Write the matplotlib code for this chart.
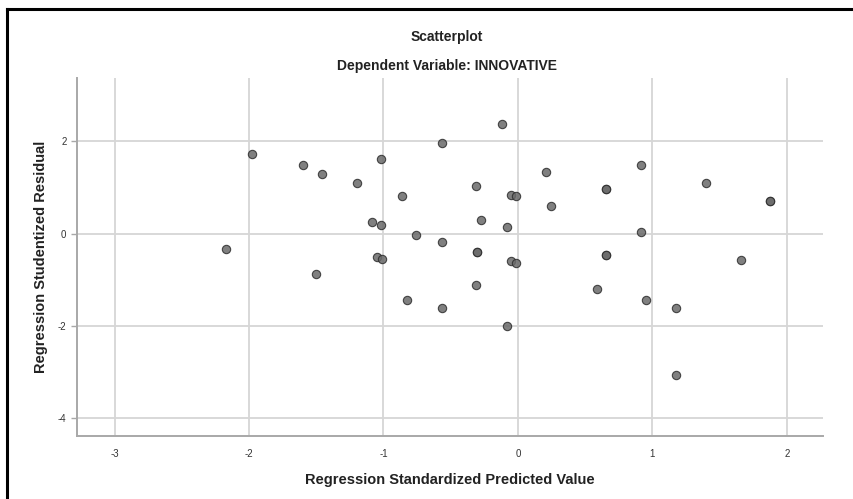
import matplotlib.pyplot as plt
from matplotlib.lines import Line2D

plt.rcParams['font.family'] = ['Liberation Sans', 'DejaVu Sans']
plt.rcParams['axes.unicode_minus'] = False

# regression standardized predicted value vs studentized residual
pred = [-1.98, -1.60, -1.46, -2.17, -1.50, -0.12, -0.565, -1.015, -1.20, 0.208,
        -0.31, -0.052, -0.012, 0.243, -0.86, -1.084, -1.015, -0.275, -0.084, -0.758,
        -0.565, -0.307, -0.307, -1.05, -1.013, -0.052, -0.015, 0.914, 0.657, 0.657,
        1.397, 1.877, 1.877, 0.914, 0.657, 0.657, 1.655, -0.827, -0.565, -0.309,
        -0.084, 0.590, 0.949, 1.172, 1.172]
resid = [1.73, 1.48, 1.30, -0.34, -0.87, 2.38, 1.97, 1.62, 1.10, 1.34,
         1.04, 0.83, 0.81, 0.61, 0.81, 0.25, 0.18, 0.30, 0.15, -0.03,
         -0.18, -0.39, -0.39, -0.51, -0.54, -0.60, -0.64, 1.48, 0.97, 0.97,
         1.09, 0.70, 0.70, 0.04, -0.46, -0.46, -0.57, -1.43, -1.62, -1.11,
         -2.01, -1.19, -1.44, -1.62, -3.07]

xticks = [-3, -2, -1, 0, 1, 2]
yticks = [-4, -2, 0, 2]

fig = plt.figure(figsize=(8.54, 4.99), dpi=100)
ax = fig.add_axes([0.090, 0.126, 0.874, 0.718])

ax.scatter(pred, resid, s=36, facecolor='#6a6a6a', edgecolor='#2e2e2e',
           linewidth=0.8, alpha=0.85, zorder=3)

ax.set_xlim(-3.28, 2.27)
ax.set_ylim(-4.39, 3.38)
ax.set_xticks(xticks)
ax.set_yticks(yticks)
ax.grid(True, color='#d6d6d6', linewidth=1.3)
ax.set_axisbelow(True)

for s in ['top', 'right']:
    ax.spines[s].set_visible(False)
for s in ['left', 'bottom']:
    ax.spines[s].set_color('#a8a8a8')
    ax.spines[s].set_linewidth(1.4)
ax.tick_params(axis='both', colors='#a8a8a8', labelcolor='#333333',
               labelsize=7, length=4, width=1)
ax.tick_params(axis='x', length=0, pad=9)

ax.set_xlabel('Regression Standardized Predicted Value', fontsize=10.5,
              fontweight='bold', color='#222222', labelpad=10)
ax.set_ylabel('Regression Studentized Residual', fontsize=10.5,
              fontweight='bold', color='#222222', labelpad=7)

fig.text(0.523, 0.925, 'Scatterplot', ha='center', va='center', fontsize=10,
         fontweight='bold', color='#222222')
fig.text(0.523, 0.867, 'Dependent Variable: INNOVATIVE', ha='center',
         va='center', fontsize=10, fontweight='bold', color='#222222')

# outer frame (top and left edges visible)
fig.add_artist(Line2D([0.008, 0.008], [0, 0.982], color='black', linewidth=2.2,
                      transform=fig.transFigure))
fig.add_artist(Line2D([0.008, 1.0], [0.982, 0.982], color='black', linewidth=2.2,
                      transform=fig.transFigure))

fig.savefig('out.png', dpi=100)
